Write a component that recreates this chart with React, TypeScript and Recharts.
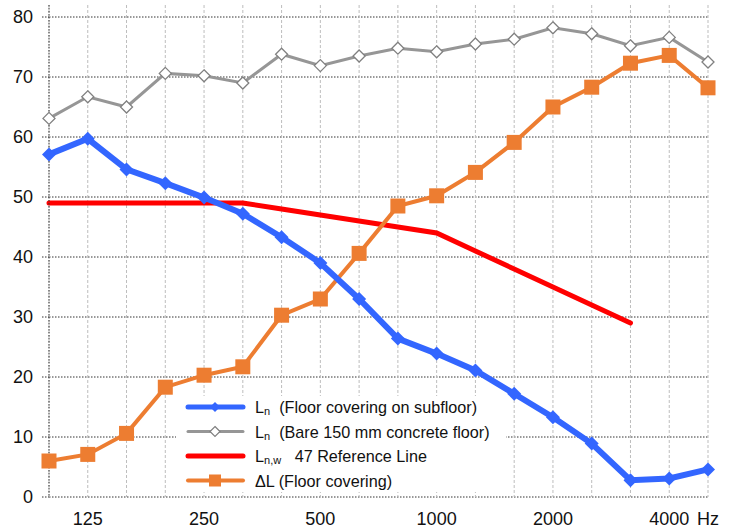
import React from 'react';
import { LineChart, Line, XAxis, YAxis, CartesianGrid, Legend } from 'recharts';

const bands = ['100', '125', '160', '200', '250', '315', '400', '500', '630', '800', '1000', '1250', '1600', '2000', '2500', '3150', '4000', '5000'];
const shownTicks: Record<string, string> = { '125': '125', '250': '250', '500': '500', '1000': '1000', '2000': '2000', '4000': '4000', '5000': 'Hz' };

const lnCovered = [57.1, 59.7, 54.6, 52.3, 49.9, 47.2, 43.3, 39.0, 33.0, 26.4, 23.9, 21.1, 17.2, 13.3, 8.9, 2.8, 3.1, 4.6];
const lnBare = [63.1, 66.7, 65.0, 70.6, 70.2, 69.0, 73.8, 71.9, 73.5, 74.8, 74.2, 75.5, 76.3, 78.2, 77.2, 75.2, 76.6, 72.5];
const refLine: (number | null)[] = [49, 49, 49, 49, 49, 49, 48, 47, 46, 45, 44, 41, 38, 35, 32, 29, null, null];
const deltaL = [6.0, 7.1, 10.6, 18.3, 20.3, 21.7, 30.3, 33.0, 40.6, 48.5, 50.2, 54.1, 59.1, 65.0, 68.3, 72.3, 73.6, 68.2];
const yTicks = [0, 10, 20, 30, 40, 50, 60, 70, 80];

const data = bands.map((b, i) => ({
  band: b,
  covered: lnCovered[i],
  bare: lnBare[i],
  ref: refLine[i],
  delta: deltaL[i],
}));

const BLUE = '#3366ff';
const GRAY = '#969696';
const RED = '#ff0000';
const ORANGE = '#ed7d31';
const FONT = '"Liberation Sans", Arial, sans-serif';

const blueDot = (p: any) => {
  const { cx, cy, index } = p;
  if (cx == null || cy == null) return <g key={index} />;
  const r = 7;
  return <path key={index} d={`M${cx},${cy - r}L${cx + r},${cy}L${cx},${cy + r}L${cx - r},${cy}Z`} fill={BLUE} />;
};

const grayDot = (p: any) => {
  const { cx, cy, index } = p;
  if (cx == null || cy == null) return <g key={index} />;
  const r = 6;
  return (
    <path key={index} d={`M${cx},${cy - r}L${cx + r},${cy}L${cx},${cy + r}L${cx - r},${cy}Z`} fill="#fff" stroke="#808080" strokeWidth={1.3} />
  );
};

const orangeDot = (p: any) => {
  const { cx, cy, index } = p;
  if (cx == null || cy == null) return <g key={index} />;
  return <rect key={index} x={cx - 7.5} y={cy - 7.5} width={15} height={15} fill={ORANGE} />;
};

const legendRows = [
  { key: 'covered', main: 'L', sub: 'n', rest: '  (Floor covering on subfloor)' },
  { key: 'bare', main: 'L', sub: 'n', rest: '  (Bare 150 mm concrete floor)' },
  { key: 'ref', main: 'L', sub: 'n,w', rest: '   47 Reference Line' },
  { key: 'delta', main: '\u0394L', sub: '', rest: ' (Floor covering)' },
];

function LegendBox() {
  return (
    <div style={{ background: '#fff', width: 330, height: 96, position: 'relative' }}>
      <svg width={330} height={96} style={{ position: 'absolute', left: 0, top: 0 }}>
        {legendRows.map((r, i) => {
          const y = 11 + i * 24.5;
          return (
            <g key={r.key}>
              {r.key === 'covered' && (
                <>
                  <line x1={12} x2={67} y1={y} y2={y} stroke={BLUE} strokeWidth={5} strokeLinecap="round" />
                  <path d={`M39,${y - 5}L44,${y}L39,${y + 5}L34,${y}Z`} fill={BLUE} />
                </>
              )}
              {r.key === 'bare' && (
                <>
                  <line x1={12} x2={67} y1={y} y2={y} stroke={GRAY} strokeWidth={3} strokeLinecap="round" />
                  <path d={`M39,${y - 5}L44,${y}L39,${y + 5}L34,${y}Z`} fill="#fff" stroke="#808080" strokeWidth={1.2} />
                </>
              )}
              {r.key === 'ref' && <line x1={12} x2={67} y1={y} y2={y} stroke={RED} strokeWidth={5} strokeLinecap="round" />}
              {r.key === 'delta' && (
                <>
                  <line x1={12} x2={67} y1={y} y2={y} stroke={ORANGE} strokeWidth={4} strokeLinecap="round" />
                  <rect x={33} y={y - 6} width={12} height={12} fill={ORANGE} />
                </>
              )}
              <text x={79} y={y + 6} fontFamily={FONT} fontSize={16.2} fill="#111" style={{ whiteSpace: 'pre' }}>
                {r.main}
                {r.sub && (
                  <tspan fontSize={11} dy={2}>
                    {r.sub}
                  </tspan>
                )}
                <tspan dy={r.sub ? -2 : 0}>{r.rest}</tspan>
              </text>
            </g>
          );
        })}
      </svg>
    </div>
  );
}

export default function App() {
  return (
    <div style={{ position: 'absolute', left: 0, top: 0, width: 735, height: 532, background: '#fff' }}>
      <LineChart width={735} height={532} data={data} margin={{ top: 5, right: 27, bottom: 0, left: 0 }}>
        <CartesianGrid vertical={false} horizontalValues={yTicks} stroke="#333" strokeDasharray="1.5 1.5" />
        <CartesianGrid horizontal={false} stroke="#bdbdbd" strokeDasharray="3 2" />
        <XAxis
          dataKey="band"
          interval={0}
          axisLine={false}
          tickLine={false}
          tickSize={0}
          tickMargin={15}
          height={35}
          tickFormatter={(v: string) => shownTicks[v] ?? ''}
          tick={{ fontFamily: FONT, fontSize: 18, fill: '#111' }}
        />
        <YAxis
          domain={[0, 82]}
          ticks={yTicks}
          width={49}
          tickSize={7}
          tickMargin={9}
          axisLine={{ stroke: '#333', strokeDasharray: '1.5 1.5' }}
          tickLine={{ stroke: '#333', strokeDasharray: '1.5 1.5' }}
          tick={{ fontFamily: FONT, fontSize: 18, fill: '#111' }}
        />
        <Legend
          layout="vertical"
          align="center"
          verticalAlign="middle"
          wrapperStyle={{ left: 176, top: 396, width: 330, height: 96 }}
          content={() => <LegendBox />}
        />
        <Line dataKey="bare" stroke={GRAY} strokeWidth={3} dot={grayDot} activeDot={false} isAnimationActive={false} />
        <Line dataKey="ref" stroke={RED} strokeWidth={5} dot={false} activeDot={false} strokeLinecap="round" isAnimationActive={false} />
        <Line dataKey="delta" stroke={ORANGE} strokeWidth={4} dot={orangeDot} activeDot={false} isAnimationActive={false} />
        <Line dataKey="covered" stroke={BLUE} strokeWidth={6} dot={blueDot} activeDot={false} isAnimationActive={false} />
      </LineChart>
    </div>
  );
}
